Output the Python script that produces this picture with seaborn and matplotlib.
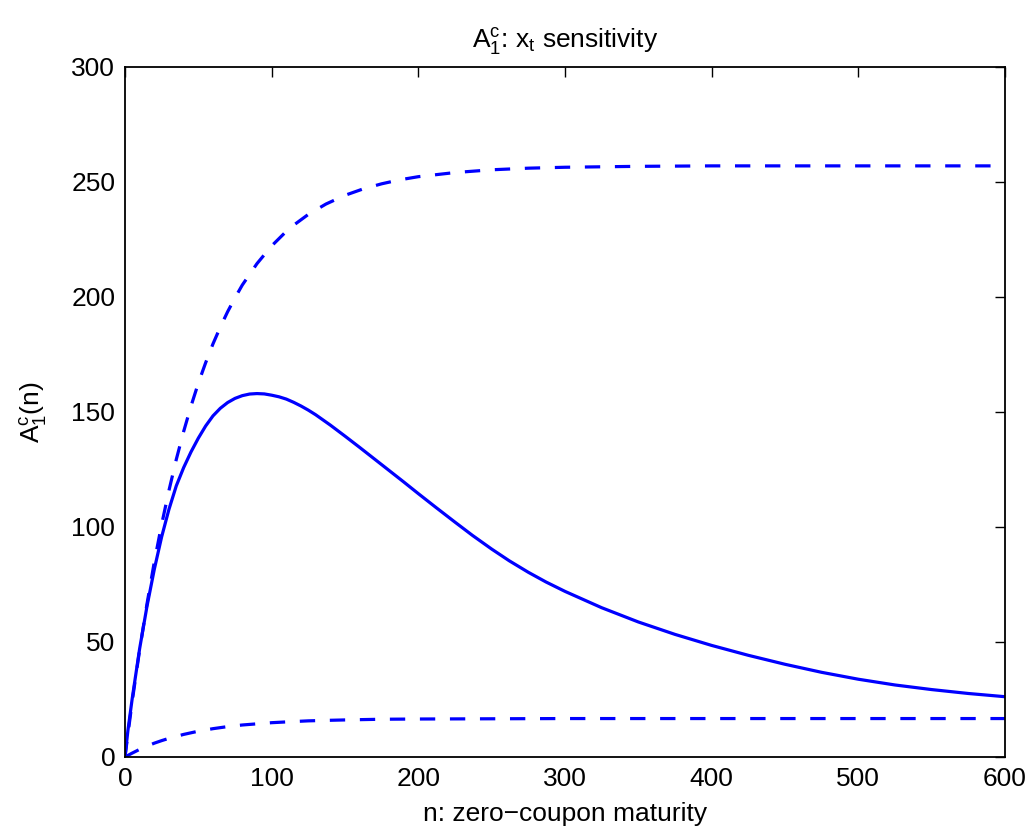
import numpy as np
import pandas as pd
import seaborn as sns
import matplotlib
matplotlib.use("Agg")
import matplotlib.pyplot as plt

# Solid curve: A1^c(n)
n_solid = [0, 2, 5, 10, 15, 20, 25, 30, 35, 40, 45, 50, 55, 60, 65, 70, 75, 80, 85,
           90, 95, 100, 105, 110, 115, 120, 125, 130, 140, 150, 160, 170, 180, 190, 200,
           212, 225, 237, 250, 262, 275, 287, 300, 325, 350, 375, 400, 425, 450, 475,
           500, 525, 550, 575, 600]
v_solid = [0, 11.5, 25.7, 47.1, 65.5, 81.6, 95.7, 107.7, 117.9, 125.8, 132.6, 138.6,
           143.9, 148.3, 151.6, 154.1, 155.9, 157.1, 157.8, 158.0, 157.85, 157.3, 156.6,
           155.6, 154.2, 152.6, 150.8, 148.8, 144.3, 139.5, 134.6, 129.6, 124.6, 119.6,
           114.5, 108.5, 102.1, 96.3, 90.4, 85.3, 80.3, 76.1, 72.0, 64.9, 58.7, 53.3,
           48.5, 44.2, 40.3, 36.8, 33.8, 31.3, 29.3, 27.6, 26.2]

# Upper dashed bound
n_upper = [0, 5, 10, 15, 20, 25, 30, 35, 40, 45, 50, 55, 60, 65, 70, 75, 80, 90, 100,
           112, 125, 137, 150, 162, 175, 187, 200, 225, 250, 275, 300, 350, 400, 500, 600]
v_upper = [0, 24.5, 46.6, 66.5, 84.8, 101.1, 115.9, 129.4, 141.5, 152.5, 162.5, 171.4,
           179.6, 186.9, 193.6, 199.6, 205.2, 214.5, 222.2, 229.8, 235.9, 240.4, 244.2,
           246.9, 249.2, 250.9, 252.3, 254.1, 255.3, 256.0, 256.4, 256.8, 257, 257, 257]

# Lower dashed bound
n_lower = [0, 5, 10, 15, 20, 25, 30, 40, 50, 60, 70, 80, 90, 100, 112, 125, 137, 150,
           175, 200, 250, 300, 400, 500, 600]
v_lower = [0, 1.7, 3.3, 4.7, 6.0, 7.1, 8.1, 9.8, 11.2, 12.3, 13.2, 13.9, 14.4, 14.9,
           15.3, 15.7, 15.9, 16.1, 16.4, 16.5, 16.6, 16.7, 16.7, 16.7, 16.7]

x_ticks = [0, 100, 200, 300, 400, 500, 600]
y_ticks = [0, 50, 100, 150, 200, 250, 300]

sns.set_style("white")
plt.rcParams['font.family'] = ['Liberation Sans', 'DejaVu Sans']
plt.rcParams['mathtext.fontset'] = 'custom'
plt.rcParams['mathtext.rm'] = 'Liberation Sans'
plt.rcParams['mathtext.it'] = 'Liberation Sans'
plt.rcParams['mathtext.sf'] = 'Liberation Sans'
plt.rcParams['text.color'] = 'black'
plt.rcParams['axes.labelcolor'] = 'black'

fig = plt.figure(figsize=(10.32, 8.30), dpi=100)
ax = fig.add_axes([0.1211, 0.088, 0.8527, 0.8313])

blue = "#0000ff"
df_s = pd.DataFrame({"n": n_solid, "v": v_solid})
df_u = pd.DataFrame({"n": n_upper, "v": v_upper})
df_l = pd.DataFrame({"n": n_lower, "v": v_lower})

lw = 2.3
for df, dashed in [(df_u, True), (df_s, False), (df_l, True)]:
    sns.lineplot(data=df, x="n", y="v", ax=ax, color=blue,
                 estimator=None, sort=False)
    line = ax.lines[-1]
    line.set_linewidth(lw)
    if dashed:
        line.set_linestyle((0, (4.8, 4.6)))
    else:
        line.set_linestyle("-")

ax.set_xlim(0, 600)
ax.set_ylim(0, 300)
ax.set_xticks(x_ticks)
ax.set_yticks(y_ticks)
ax.set_xticklabels([str(t) for t in x_ticks])
ax.set_yticklabels([str(t) for t in y_ticks])

for s in ax.spines.values():
    s.set_visible(True)
    s.set_color("black")
    s.set_linewidth(1.3)

ax.tick_params(direction="in", length=7, width=1.0, top=True, right=True,
               labelsize=19, pad=7, colors="black")
ax.set_xlabel("n: zero\u2212coupon maturity", fontsize=19, labelpad=8, color="black")
ax.set_ylabel(r"$\mathrm{A}_1^\mathrm{c}\mathrm{(n)}$", fontsize=19, labelpad=16, color="black")
ax.set_title(r"$\mathrm{A}_1^\mathrm{c}$: x$_\mathrm{t}$ sensitivity", fontsize=19, pad=14,
             color="black")

fig.savefig("out.png", dpi=100, facecolor="white")
